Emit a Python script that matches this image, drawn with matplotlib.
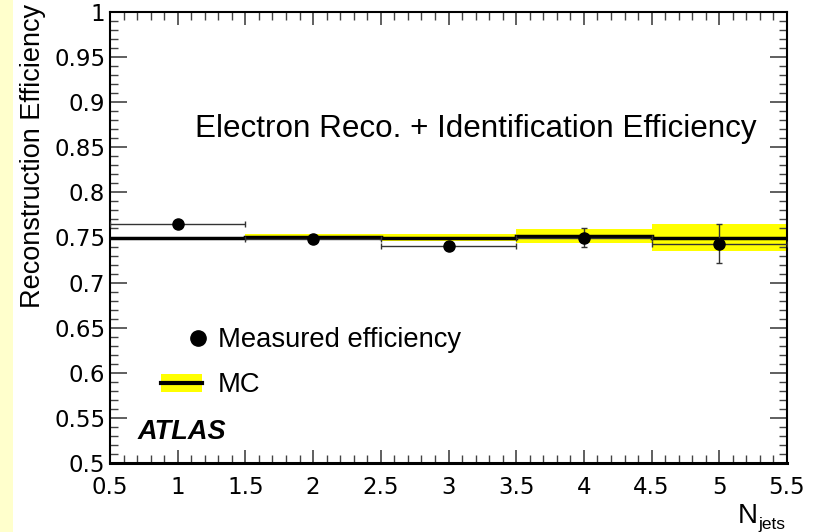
import numpy as np
import matplotlib
matplotlib.use("Agg")
import matplotlib.pyplot as plt
from matplotlib.patches import Patch, Rectangle
from matplotlib.lines import Line2D
from matplotlib.legend_handler import HandlerLine2D
from matplotlib.ticker import MultipleLocator, FuncFormatter

# --- Data ---
bin_edges = [0.5, 1.5, 2.5, 3.5, 4.5, 5.5]
njets = [1, 2, 3, 4, 5]
meas_eff = [0.765, 0.748, 0.741, 0.750, 0.743]
meas_err = [0.0015, 0.0015, 0.0015, 0.011, 0.0215]
mc_eff = [0.750, 0.751, 0.750, 0.7515, 0.750]
mc_err = [0.001, 0.0025, 0.0035, 0.0075, 0.015]

# --- Style ---
TEXT_FONT = "Liberation Sans"
TICK_FONT = "DejaVu Sans"
BAND_COLOR = "#ffff00"
STRIP_COLOR = "#ffffcc"


class RightDot(HandlerLine2D):
    """Legend marker drawn near the right end of the handle (ROOT-like).
    mpl puts the single marker in the middle of xdata, so shift the range."""
    def get_xdata(self, legend, xdescent, ydescent, width, height, fontsize):
        xd = [-xdescent + 0.8 * width, -xdescent + width]
        return xd, [-xdescent + 0.9 * width]


fig = plt.figure(figsize=(8.15, 5.32), dpi=100)
fig.patches.append(Rectangle((0, 0), 13 / 815, 1, transform=fig.transFigure,
                             facecolor=STRIP_COLOR, edgecolor="none", zorder=-1))

ax = fig.add_axes([110 / 815, 1 - 463 / 532, 677 / 815, 451 / 532])

# MC band + line
centers = np.array(njets, dtype=float)
ax.bar(centers, 2 * np.array(mc_err), bottom=np.array(mc_eff) - np.array(mc_err),
       width=np.diff(bin_edges), color=BAND_COLOR, edgecolor="none", zorder=1)
ax.stairs(mc_eff, bin_edges, baseline=None, color="black", lw=2.5, zorder=2)

# measured points
ax.errorbar(njets, meas_eff, xerr=0.5, yerr=meas_err, fmt="o", color="black",
            ecolor="#333333", ms=8, elinewidth=1, capsize=2.5, capthick=1,
            zorder=3)

ax.set_xlim(0.5, 5.5)
ax.set_ylim(0.5, 1.0)
ax.xaxis.set_major_locator(MultipleLocator(0.5))
ax.xaxis.set_minor_locator(MultipleLocator(0.1))
ax.yaxis.set_major_locator(MultipleLocator(0.05))
ax.yaxis.set_minor_locator(MultipleLocator(0.01))
fmt = FuncFormatter(lambda v, p: "%g" % round(v, 3))
ax.xaxis.set_major_formatter(fmt)
ax.yaxis.set_major_formatter(fmt)

ax.tick_params(which="both", direction="in", top=True, right=True, color="#444444")
ax.tick_params(axis="x", which="major", length=9.5, width=1.2, pad=9.5)
ax.tick_params(axis="x", which="minor", length=5.5, width=1)
ax.tick_params(axis="y", which="major", length=12, width=1.2, pad=3.5)
ax.tick_params(axis="y", which="minor", length=6, width=1)
for lab in ax.get_xticklabels() + ax.get_yticklabels():
    lab.set_fontfamily(TICK_FONT)
    lab.set_fontsize(16.5)
for sp in ax.spines.values():
    sp.set_linewidth(1.5)
ax.spines["bottom"].set_linewidth(2.2)

# --- Labels ---
fig.text(0.040, 1 - 4 / 532, "Reconstruction Efficiency", rotation=90,
         ha="center", va="top", fontsize=19.5, family=TEXT_FONT)
fig.text(758 / 815, 1 - 523 / 532, "N", ha="right", va="baseline",
         fontsize=20, family=TEXT_FONT)
fig.text(758 / 815, 1 - 529 / 532, "jets", ha="left", va="baseline",
         fontsize=12.5, family=TEXT_FONT)

ax.text(0.1256, 0.7228, "Electron Reco. + Identification Efficiency",
        transform=ax.transAxes, ha="left", va="baseline", fontsize=22.6,
        family=TEXT_FONT)
ax.text(0.04, 0.053, "ATLAS", transform=ax.transAxes, ha="left",
        va="baseline", fontsize=19.5, family=TEXT_FONT, weight="bold",
        style="italic")

# --- Legend ---
h_meas = Line2D([], [], marker="o", ls="none", color="black", ms=11)
h_mc = (Patch(facecolor=BAND_COLOR, edgecolor="none"),
        Line2D([], [], color="black", lw=3))
ax.legend([h_meas, h_mc], ["Measured efficiency", "MC"],
          handler_map={h_meas: RightDot()},
          loc="upper left", bbox_to_anchor=((161 - 110) / 677, (463 - 327) / 451),
          frameon=False, borderpad=0, borderaxespad=0, handlelength=1.5,
          handleheight=0.62, handletextpad=0.58, labelspacing=0.71,
          prop={"family": TEXT_FONT, "size": 19.7})

fig.savefig("out.png", dpi=100)
